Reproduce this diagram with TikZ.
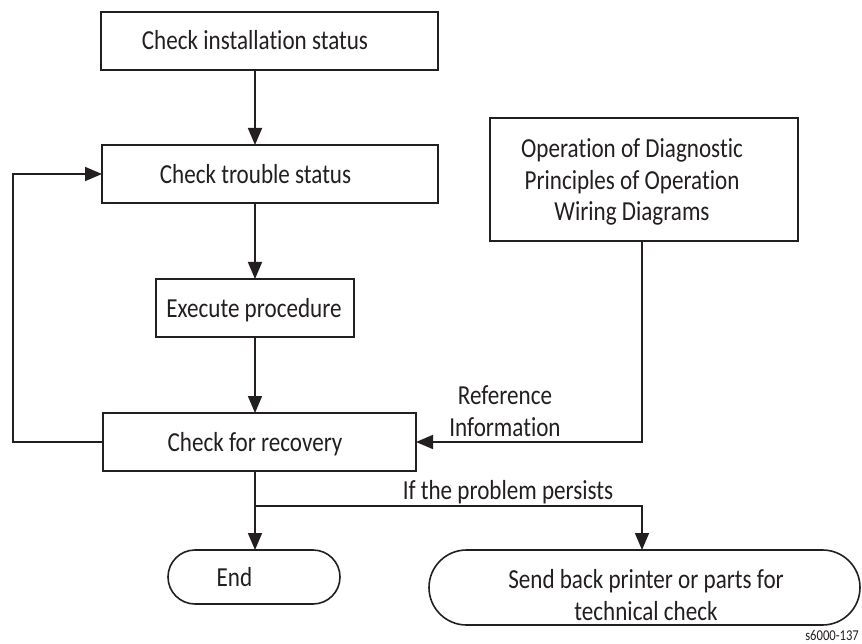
\documentclass[tikz,border=0pt]{standalone}
\usepackage{fontspec}
\setmainfont{Carlito}[FakeStretch=0.84,Ligatures=NoCommon]
\usetikzlibrary{arrows.meta}
\definecolor{ink}{HTML}{231F20}
\begin{document}
\begin{tikzpicture}[x=1pt,y=-1pt,
  box/.style={draw=ink,line width=1.6pt,rectangle,inner sep=0pt,outer sep=0pt},
  term/.style={box,rounded corners=#1},
  txt/.style={text=ink,inner sep=0pt,outer sep=0pt,font=\fontsize{27.5}{31.5}\selectfont,align=center},
  small/.style={text=ink,inner sep=0pt,font=\fontsize{15}{17}\selectfont},
  line/.style={draw=ink,line width=1.6pt},
  arr/.style={line,-{Triangle[length=17pt,width=14pt]}}]
\useasboundingbox (0,0) rectangle (862,644);
\fill[white] (0,0) rectangle (862,644);
% axes
\coordinate (ax) at (255,0);
\coordinate (lp) at (13,0);
\coordinate (sx) at (642,0);
\coordinate (br) at (255,506);
% boxes
\node[box,minimum width=337pt,minimum height=58pt] (b1) at (269.5,41) {};
\node[box,minimum width=336pt,minimum height=58pt] (b2) at (270,174) {};
\node[box,minimum width=198pt,minimum height=58pt] (b3) at (255,308) {};
\node[box,minimum width=313pt,minimum height=58pt] (b4) at (259.5,442) {};
\node[box,minimum width=308pt,minimum height=123pt] (b5) at (644,179.5) {};
\node[term=27pt,minimum width=172pt,minimum height=54pt] (endn) at (254,577) {};
\node[term=37.5pt,minimum width=431pt,minimum height=75pt] (send) at (644.5,587.5) {};
% texts
\node[txt,anchor=base] (t1) at (255,50) {Check installation status};
\node[txt,anchor=base] (t2) at (255.5,184) {Check trouble status};
\node[txt,anchor=base] (t3) at (254,317) {Execute procedure};
\node[txt,anchor=base] (t4) at (255,451) {Check for recovery};
\node[txt,anchor=base] (t6) at (234.5,586) {End};
\node[txt] (t5) at (632,182) {Operation of Diagnostic\\Principles of Operation\\Wiring Diagrams};
\node[txt] (t7) at (646,595) {Send back printer or parts for\\technical check};
\node[txt] (ref) at (505,411) {Reference\\Information};
\node[txt,anchor=base] (ifp) at (508,499) {If the problem persists};
\node[small,anchor=base east] (fig) at (859,640) {s6000-137};
% connectors
\draw[arr] (b1.south -| ax) -- (b2.north -| ax);
\draw[arr] (b2.south -| ax) -- (b3.north);
\draw[arr] (b3.south) -- (b4.north -| ax);
\draw[arr] (b4.west) -- (b4.west -| lp) |- (b2.west);
\draw[arr] (b5.south -| sx) |- (b4.east);
\draw[arr] (b4.south -| ax) -- (endn.north -| ax);
\draw[arr] (br) -| (send.north -| sx);
\end{tikzpicture}
\end{document}
